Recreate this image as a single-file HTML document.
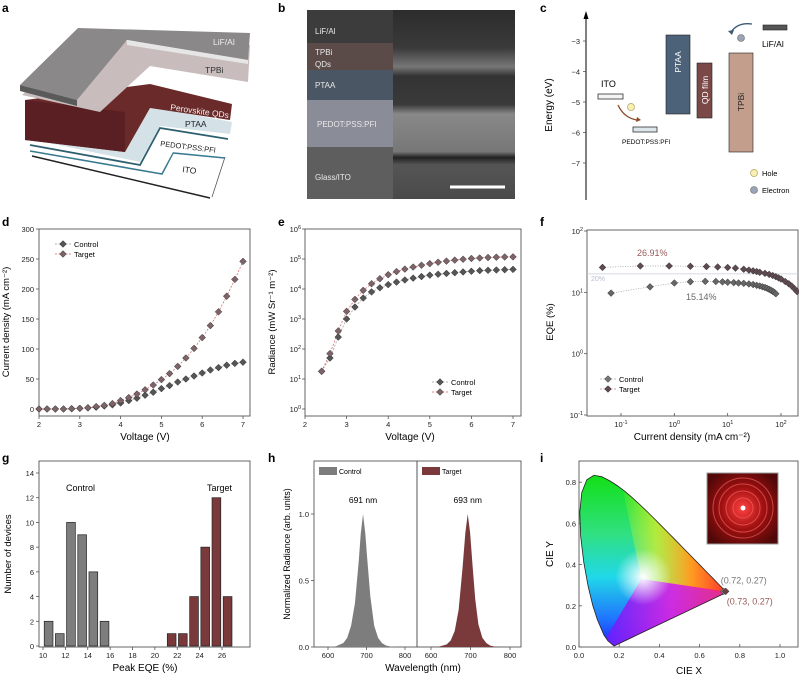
<!DOCTYPE html>
<html><head><meta charset="utf-8"><style>
html,body{margin:0;padding:0;background:#fff}
svg{display:block;font-family:"Liberation Sans",Arial,sans-serif}
</style></head><body>
<svg id="fig" width="799" height="679" viewBox="0 0 799 679" xmlns="http://www.w3.org/2000/svg">
<defs>
 <linearGradient id="cieBase" x1="0" y1="0" x2="0" y2="1">
  <stop offset="0" stop-color="#10e010"/><stop offset="0.35" stop-color="#30e080"/>
  <stop offset="0.6" stop-color="#20d8e8"/><stop offset="0.85" stop-color="#2070ff"/><stop offset="1" stop-color="#2020ff"/>
 </linearGradient>
 <linearGradient id="cieRight" x1="0" y1="0" x2="1" y2="0">
  <stop offset="0" stop-color="#ffff00" stop-opacity="0"/><stop offset="0.3" stop-color="#e8f020" stop-opacity="0.7"/>
  <stop offset="0.6" stop-color="#ff9a20"/><stop offset="1" stop-color="#ff1030"/>
 </linearGradient>
 <linearGradient id="ciePurple" x1="0" y1="0" x2="1" y2="0">
  <stop offset="0" stop-color="#6020ff"/><stop offset="0.5" stop-color="#e020e0"/><stop offset="1" stop-color="#ff2060"/>
 </linearGradient>
 <radialGradient id="cieWhite" cx="0.5" cy="0.5" r="0.5">
  <stop offset="0" stop-color="#fff" stop-opacity="1"/><stop offset="1" stop-color="#fff" stop-opacity="0"/>
 </radialGradient>
 <radialGradient id="photoG" cx="0.5" cy="0.5" r="0.6">
  <stop offset="0" stop-color="#ff4040"/><stop offset="0.5" stop-color="#a01010"/><stop offset="1" stop-color="#500808"/>
 </radialGradient>
 <clipPath id="cieClip"><path id="cieClipPath"/></clipPath>
 <linearGradient id="semG" x1="0" y1="0" x2="0" y2="1">
  <stop offset="0" stop-color="#2c2c2c"/><stop offset="0.2" stop-color="#3a3a3a"/><stop offset="0.3" stop-color="#777"/>
  <stop offset="0.35" stop-color="#333"/><stop offset="0.5" stop-color="#3a3a3a"/><stop offset="0.55" stop-color="#888"/>
  <stop offset="0.75" stop-color="#777"/><stop offset="0.78" stop-color="#222"/><stop offset="0.82" stop-color="#555"/><stop offset="1" stop-color="#4a4a4a"/>
 </linearGradient>
</defs>

<!-- Panel letters -->
<g font-weight="bold" font-size="12" fill="#000">
 <text x="2" y="12">a</text>
 <text x="278" y="12">b</text>
 <text x="540" y="12">c</text>
 <text x="2" y="226">d</text>
 <text x="278" y="226">e</text>
 <text x="540" y="226">f</text>
 <text x="2" y="462">g</text>
 <text x="268" y="462">h</text>
 <text x="540" y="462">i</text>
</g>

<!-- Panel a: device stack -->
<g>
 <polygon points="30,150 162,173 173,152 225,157 212,197" fill="#fff"/>
 <line x1="32" y1="156" x2="210" y2="198" stroke="#222" stroke-width="1.5"/>
 <line x1="212" y1="197" x2="225" y2="157" stroke="#555" stroke-width="0.8"/>
 <polyline points="30,151 162,174 173,153 225,158" fill="none" stroke="#3a7a90" stroke-width="1.6"/>
 <polygon points="30,143 140,163 160,126 228,137 222,155 173,152 162,172 30,148" fill="#fff"/>
 <polyline points="30,145 140,165 160,128 228,139" fill="none" stroke="#2f6070" stroke-width="1.8"/>
 <polygon points="25,130 143,105 232,122 230,134 160,126 140,162 25,138" fill="#d4e2e8"/>
 <polygon points="25,100 150,84 232,104 230,120 150,108 125,152 25,140" fill="#6b2a2a"/>
 <polygon points="25,100 125,112 125,152 25,140" fill="#5a1f22"/>
 <polygon points="22,95 80,40 250,45 248,82 150,66 100,112" fill="#c9bcbc"/>
 <polygon points="20,85 78,28 250,33 248,60 127,40 77,100" fill="#8a8888"/>
 <polygon points="20,85 77,100 77,106 20,91" fill="#5a5a5a"/>
 <polygon points="127,40 248,60 248,64 127,45" fill="#e6e6e6"/>
 <g font-size="8.5">
  <text x="213" y="45" fill="#eee">LiF/Al</text>
  <text x="205" y="73" fill="#333">TPBi</text>
  <text x="170" y="110" fill="#eee" transform="rotate(8 170 110)">Perovskite QDs</text>
  <text x="185" y="127" fill="#222">PTAA</text>
  <text x="160" y="146" fill="#222" font-size="7.5" transform="rotate(7 160 146)">PEDOT:PSS:PFI</text>
  <text x="182" y="172" fill="#222" transform="rotate(8 182 172)">ITO</text>
 </g>
</g>

<!-- Panel b: SEM -->
<g>
 <rect x="307" y="10" width="208" height="189" fill="url(#semG)"/>
 <rect x="307" y="10" width="86" height="33" fill="#3c3c3c"/>
 <rect x="307" y="43" width="86" height="27" fill="#5a4a48"/>
 <rect x="307" y="70" width="86" height="30" fill="#4a5664"/>
 <rect x="307" y="100" width="86" height="47" fill="#8a8c98"/>
 <rect x="307" y="147" width="86" height="52" fill="#5e5e5e"/>
 <rect x="450" y="185.5" width="55" height="3" fill="#fff"/>
 <g font-size="8" fill="#e8e8e8">
  <text x="315" y="34">LiF/Al</text><text x="315" y="55">TPBi</text><text x="315" y="67">QDs</text>
  <text x="315" y="88">PTAA</text><text x="317" y="127">PEDOT:PSS:PFI</text><text x="315" y="180">Glass/ITO</text>
 </g>
</g>

<!-- Panel c: energy diagram -->
<g>
 <line x1="586" y1="200" x2="586" y2="17" stroke="#000" stroke-width="1"/>
 <polygon points="586,11 583.5,19 588.5,19" fill="#000"/>
 <g id="cTicks" font-size="8" fill="#000"></g>
 <text x="552" y="105" font-size="10" transform="rotate(-90 552 105)" text-anchor="middle">Energy (eV)</text>
 <rect x="598" y="94" width="25" height="5" fill="#f4f4f4" stroke="#333" stroke-width="0.8"/>
 <text x="601" y="87" font-size="9">ITO</text>
 <rect x="633" y="127" width="24" height="5" fill="#dde6ea" stroke="#333" stroke-width="0.8"/>
 <text x="622" y="144" font-size="6.5">PEDOT:PSS:PFI</text>
 <rect x="666" y="35" width="24" height="79" fill="#4c6278" stroke="#222" stroke-width="0.6"/>
 <text x="681" y="62" font-size="8.5" fill="#fff" transform="rotate(-90 681 62)" text-anchor="middle">PTAA</text>
 <rect x="697" y="63" width="15" height="55" fill="#7b4848" stroke="#222" stroke-width="0.6"/>
 <text x="708" y="90" font-size="8.5" fill="#fff" transform="rotate(-90 708 90)" text-anchor="middle">QD film</text>
 <rect x="729" y="53" width="24" height="99" fill="#c39e8c" stroke="#222" stroke-width="0.6"/>
 <text x="744" y="102" font-size="8.5" fill="#222" transform="rotate(-90 744 102)" text-anchor="middle">TPBi</text>
 <rect x="763" y="25" width="24" height="5" fill="#555" stroke="#222" stroke-width="0.6"/>
 <text x="762" y="47" font-size="8.5">LiF/Al</text>
 <circle cx="631" cy="107" r="3.5" fill="#f8f0b0" stroke="#b0a060" stroke-width="0.7"/>
 <path d="M618,105 Q624,118 637,120" fill="none" stroke="#8a4a2a" stroke-width="1.3"/>
 <polygon points="637,117 641,120 636,122" fill="#8a4a2a"/>
 <circle cx="741" cy="38" r="3.5" fill="#9aa4b4" stroke="#666" stroke-width="0.6"/>
 <path d="M752,24 Q738,22 731,32" fill="none" stroke="#3a5a78" stroke-width="1.3"/>
 <polygon points="728,31 732,35 734,30" fill="#3a5a78"/>
 <circle cx="754" cy="173" r="3.5" fill="#f8f0b0" stroke="#b0a060" stroke-width="0.7"/>
 <text x="762" y="176" font-size="7.5">Hole</text>
 <circle cx="754" cy="190" r="3.5" fill="#9aa4b4" stroke="#666" stroke-width="0.6"/>
 <text x="762" y="193" font-size="7.5">Electron</text>
</g>

<g id="panelD"></g>
<g id="panelE"></g>
<g id="panelF"></g>
<g id="panelG"></g>
<g id="panelH"></g>
<g id="panelI"></g>
</svg>
<script>
// ---- data ----
const dVoltage = [2,2.2,2.4,2.6,2.8,3,3.2,3.4,3.6,3.8,4,4.2,4.4,4.6,4.8,5,5.2,5.4,5.6,5.8,6,6.2,6.4,6.6,6.8,7];
const dControl = [0,0,0,0,0.5,1,2,3,5,7,10,14,18,23,28,34,39,45,50,55,60,65,69,73,76,78];
const dTarget = [0,0,0,0,0.5,1,2,4,6,9,14,19,25,32,40,49,59,71,85,101,119,139,162,188,216,246];
const dYTicks = [0,50,100,150,200,250,300];
const dXTicks = [2,3,4,5,6,7];

const eVoltage = [2.4,2.6,2.8,3,3.2,3.4,3.6,3.8,4,4.2,4.4,4.6,4.8,5,5.2,5.4,5.6,5.8,6,6.2,6.4,6.6,6.8,7];
const eControl = [18,50,250,1000,2500,5000,8000,11000,14000,17000,20000,23000,26000,29000,31000,33000,35000,37000,39000,41000,42000,43000,44000,45000];
const eTarget = [18,70,400,1800,4500,9000,15000,22000,30000,38000,46000,54000,62000,70000,78000,85000,92000,98000,104000,108000,112000,115000,117000,118000];
const eYExp = [0,1,2,3,4,5,6];

const fControlJ = [0.065,0.35,1,2,3.8,6,8,10,13,16,20,25,30,35,40,45,50,55,60,65,70,75,80];
const fControlEQE = [9.7,12.3,14.2,14.9,15.1,15,14.8,14.6,14.4,14.2,14,13.7,13.4,13,12.7,12.3,12,11.6,11.2,10.8,10.4,10,9.5];
const fTargetJ = [0.045,0.23,0.8,2,4,6.5,10,14,20,25,30,35,40,50,60,70,80,90,100,120,140,160,180,200];
const fTargetEQE = [25.5,26.9,26.9,26.6,26.3,25.9,25.4,24.8,23.8,23,22.4,21.8,21.2,20.4,19.6,18.8,18,17.2,16.5,15,13.8,12.6,11.4,10.3];
const fYExp = [-1,0,1,2];
const fXExp = [-1,0,1,2];

const gBins = [10.5,11.5,12.5,13.5,14.5,15.5,21.5,22.5,23.5,24.5,25.5,26.5];
const gCounts = [2,1,10,9,6,2,1,1,4,8,12,4];
const gGroup = ['c','c','c','c','c','c','t','t','t','t','t','t'];
const gXTicks = [10,12,14,16,18,20,22,24,26];
const gYTicks = [0,2,4,6,8,10,12,14];

const hControlWl = [590,620,640,650,660,670,680,685,691,697,702,710,720,730,740,750,760,780,810];
const hControlI = [0,0.005,0.03,0.07,0.16,0.33,0.65,0.85,1.0,0.85,0.66,0.38,0.16,0.07,0.03,0.012,0.005,0,0];
const hTargetWl = [590,620,640,650,660,670,680,687,693,699,705,712,720,730,740,750,760,780,810];
const hTargetI = [0,0.003,0.02,0.05,0.12,0.28,0.6,0.86,1.0,0.86,0.62,0.36,0.17,0.07,0.03,0.01,0.004,0,0];
const hYTicks = [0,0.5,1.0];
const hXTicks = [600,700,800];

const cieLocusX = [0.1741,0.1440,0.1241,0.0913,0.0687,0.0454,0.0235,0.0082,0.0039,0.0139,0.0389,0.0743,0.1142,0.1547,0.1929,0.2296,0.2658,0.3016,0.3373,0.3731,0.4087,0.4441,0.4788,0.5125,0.5448,0.5752,0.6029,0.6270,0.6482,0.6658,0.6801,0.6915,0.7006,0.7347];
const cieLocusY = [0.0050,0.0297,0.0578,0.1327,0.2007,0.2950,0.4127,0.5384,0.6548,0.7502,0.8120,0.8338,0.8262,0.8059,0.7816,0.7543,0.7243,0.6923,0.6589,0.6245,0.5896,0.5547,0.5202,0.4866,0.4544,0.4242,0.3965,0.3725,0.3514,0.3340,0.3197,0.3083,0.2993,0.2653];
const ciePointX = [0.72,0.73];
const ciePointY = [0.27,0.27];
const cieTicks = [0,0.2,0.4,0.6,0.8,1.0];
const cTicks = [-3,-4,-5,-6,-7];

// ---- helpers ----
const NS = 'http://www.w3.org/2000/svg';
function mk(parent, tag, attrs, text) {
  const e = document.createElementNS(NS, tag);
  for (const k in attrs) e.setAttribute(k, attrs[k]);
  if (text !== undefined) e.textContent = text;
  parent.appendChild(e);
  return e;
}
function lin(d0, d1, r0, r1) { return v => r0 + (v - d0) / (d1 - d0) * (r1 - r0); }
function logS(e0, e1, r0, r1) { return v => r0 + (Math.log10(v) - e0) / (e1 - e0) * (r1 - r0); }
function frame(g, x0, y0, x1, y1) {
  const r = mk(g, 'rect', {x: x0, y: y0, width: x1 - x0, height: y1 - y0, fill: 'none', stroke: '#555', 'stroke-width': 0.9});
  
  
}
function diamond(g, cx, cy, fill, name) {
  const s = 3.4;
  const p = mk(g, 'polygon', {points: `${cx},${cy-s} ${cx+s},${cy} ${cx},${cy+s} ${cx-s},${cy}`, fill: fill, stroke: '#333', 'stroke-width': 0.5});
  
  
}
function yTitle(g, x, y, txt, fs) {
  const t = mk(g, 'text', {x: x, y: y, 'font-size': fs || 10, 'text-anchor': 'middle', transform: `rotate(-90 ${x} ${y})`}, txt);
  
  
  return t;
}
function xTitle(g, x, y, txt) {
  const t = mk(g, 'text', {x: x, y: y, 'font-size': 10, 'text-anchor': 'middle'}, txt);
  
  
  return t;
}
function supLabel(g, x, y, exp, anchor) {
  const t = mk(g, 'text', {x: x, y: y, 'font-size': 7.5, 'text-anchor': anchor, fill: '#222'});
  mk(t, 'tspan', {}, '10');
  mk(t, 'tspan', {dy: -3, 'font-size': 5.5}, String(exp));
  
  
}
function tickLabel(g, x, y, txt, anchor) {
  const t = mk(g, 'text', {x: x, y: y, 'font-size': 7.5, 'text-anchor': anchor, fill: '#222'}, txt);
  
  
}
function tick(g, x1, y1, x2, y2) { mk(g, 'line', {x1, y1, x2, y2, stroke: '#555', 'stroke-width': 0.8}); }
function legend(g, x, y, names, fills, lineCols) {
  names.forEach((n, i) => {
    const yy = y + i * 10;
    mk(g, 'line', {x1: x - 8, y1: yy, x2: x + 8, y2: yy, stroke: lineCols[i], 'stroke-width': 0.8, 'stroke-dasharray': '2,1.5'});
    diamond(g, x, yy, fills[i], 'legend-marker');
    const t = mk(g, 'text', {x: x + 11, y: yy + 3, 'font-size': 7.5}, n);
    
    
  });
}
const CTRL = '#555555', TGT = '#7e6368';

// ---- panel c ticks ----
(function(){
  const g = document.getElementById('cTicks');
  const y = lin(-3, -7, 41, 163);
  cTicks.forEach(v => { tick(g, 583, y(v), 586, y(v)); tickLabel(g, 580, y(v) + 3, '\u2212' + Math.abs(v), 'end'); });
})();

// ---- panel d ----
(function(){
  const g = document.getElementById('panelD');
  const X0 = 39, X1 = 250, Y0 = 229, Y1 = 416;
  const x = lin(2, 7, 39, 243), y = lin(0, 300, 409, 229);
  frame(g, X0, Y0, X1, Y1);
  dYTicks.forEach(v => { tick(g, X0 - 3, y(v), X0, y(v)); tickLabel(g, X0 - 5, y(v) + 3, String(v), 'end'); });
  dXTicks.forEach(v => { tick(g, x(v), Y1, x(v), Y1 + 3); tickLabel(g, x(v), Y1 + 11, String(v), 'middle'); });
  mk(g, 'polyline', {points: dVoltage.map((v,i)=>`${x(v)},${y(dControl[i])}`).join(' '), fill: 'none', stroke: '#999', 'stroke-width': 0.7, 'stroke-dasharray': '2,1.5'});
  mk(g, 'polyline', {points: dVoltage.map((v,i)=>`${x(v)},${y(dTarget[i])}`).join(' '), fill: 'none', stroke: '#d06060', 'stroke-width': 0.7, 'stroke-dasharray': '2,1.5'});
  dVoltage.forEach((v,i) => diamond(g, x(v), y(dControl[i]), CTRL, 'control-point'));
  dVoltage.forEach((v,i) => diamond(g, x(v), y(dTarget[i]), TGT, 'target-point'));
  legend(g, 63, 244, ['Control','Target'], [CTRL, TGT], ['#999', '#d06060']);
  yTitle(g, 9, 322, 'Current density (mA cm\u207B\u00B2)', 9.5);
  xTitle(g, 145, 440, 'Voltage (V)');
})();

// ---- panel e ----
(function(){
  const g = document.getElementById('panelE');
  const X0 = 305, X1 = 521, Y0 = 229, Y1 = 416;
  const x = lin(2, 7, 305, 513), y = logS(0, 6, 409, 229);
  frame(g, X0, Y0, X1, Y1);
  eYExp.forEach(e => { tick(g, X0 - 3, y(Math.pow(10,e)), X0, y(Math.pow(10,e))); supLabel(g, X0 - 4, y(Math.pow(10,e)) + 3, e, 'end'); });
  dXTicks.forEach(v => { tick(g, x(v), Y1, x(v), Y1 + 3); tickLabel(g, x(v), Y1 + 11, String(v), 'middle'); });
  mk(g, 'polyline', {points: eVoltage.map((v,i)=>`${x(v)},${y(eControl[i])}`).join(' '), fill: 'none', stroke: '#999', 'stroke-width': 0.7, 'stroke-dasharray': '2,1.5'});
  mk(g, 'polyline', {points: eVoltage.map((v,i)=>`${x(v)},${y(eTarget[i])}`).join(' '), fill: 'none', stroke: '#d06060', 'stroke-width': 0.7, 'stroke-dasharray': '2,1.5'});
  eVoltage.forEach((v,i) => diamond(g, x(v), y(eControl[i]), CTRL, 'control-point'));
  eVoltage.forEach((v,i) => diamond(g, x(v), y(eTarget[i]), TGT, 'target-point'));
  legend(g, 440, 382, ['Control','Target'], [CTRL, TGT], ['#999', '#d06060']);
  yTitle(g, 275, 322, 'Radiance (mW Sr\u207B\u00B9 m\u207B\u00B2)', 9.5);
  xTitle(g, 410, 440, 'Voltage (V)');
})();

// ---- panel f ----
(function(){
  const g = document.getElementById('panelF');
  const X0 = 587, X1 = 798, Y0 = 230, Y1 = 416;
  const x = logS(-1, 2, 621, 781), y = logS(-1, 2, 415, 231);
  frame(g, X0, Y0, X1, Y1);
  fYExp.forEach(e => { tick(g, X0 - 3, y(Math.pow(10,e)), X0, y(Math.pow(10,e))); supLabel(g, X0 - 4, y(Math.pow(10,e)) + 3, e, 'end'); });
  fXExp.forEach(e => { tick(g, x(Math.pow(10,e)), Y1, x(Math.pow(10,e)), Y1 - 3); supLabel(g, x(Math.pow(10,e)), Y1 + 11, e, 'middle'); });
  mk(g, 'line', {x1: X0, y1: y(20), x2: X1, y2: y(20), stroke: '#c8ccd8', 'stroke-width': 0.7});
  const t20 = mk(g, 'text', {x: 591, y: y(20) + 7, 'font-size': 7, fill: '#b8bcd0'}, '20%');
  
  
  mk(g, 'polyline', {points: fControlJ.map((v,i)=>`${x(v)},${y(fControlEQE[i])}`).join(' '), fill: 'none', stroke: '#999', 'stroke-width': 0.7, 'stroke-dasharray': '1,1.5'});
  mk(g, 'polyline', {points: fTargetJ.map((v,i)=>`${x(v)},${y(fTargetEQE[i])}`).join(' '), fill: 'none', stroke: '#999', 'stroke-width': 0.7, 'stroke-dasharray': '1,1.5'});
  fControlJ.forEach((v,i) => diamond(g, x(v), y(fControlEQE[i]), '#666', 'control-point'));
  fTargetJ.forEach((v,i) => diamond(g, x(v), y(fTargetEQE[i]), '#5e4a50', 'target-point'));
  const a = mk(g, 'text', {x: 637, y: 256, 'font-size': 9, fill: '#9a5a5a'}, '26.91%');
  
  
  const b = mk(g, 'text', {x: 686, y: 300, 'font-size': 9, fill: '#666'}, '15.14%');
  
  
  legend(g, 608, 379, ['Control','Target'], ['#777', '#5e4a50'], ['#aaa', '#c08080']);
  yTitle(g, 553, 322, 'EQE (%)', 9.5);
  xTitle(g, 692, 440, 'Current density (mA cm\u207B\u00B2)');
})();

// ---- panel g ----
(function(){
  const g = document.getElementById('panelG');
  const X0 = 39, X1 = 250, Y0 = 461, Y1 = 647;
  const x = lin(10, 26, 43, 222), y = lin(0, 14, 646, 473);
  frame(g, X0, Y0, X1, Y1);
  gYTicks.forEach(v => { tick(g, X0 - 3, y(v), X0, y(v)); tickLabel(g, X0 - 5, y(v) + 3, String(v), 'end'); });
  gXTicks.forEach(v => { tick(g, x(v), Y1, x(v), Y1 + 3); tickLabel(g, x(v), Y1 + 11, String(v), 'middle'); });
  const w = x(0.78) - x(0);
  gBins.forEach((c, i) => {
    const r = mk(g, 'rect', {x: x(c) - w/2, y: y(gCounts[i]), width: w, height: y(0) - y(gCounts[i]), fill: gGroup[i] === 'c' ? '#7d7d7d' : '#7a3a3c', stroke: '#222', 'stroke-width': 0.7});
    
    
  });
  const t1 = mk(g, 'text', {x: 66, y: 491, 'font-size': 9}, 'Control');
  
  
  const t2 = mk(g, 'text', {x: 207, y: 491, 'font-size': 9}, 'Target');
  
  
  yTitle(g, 11, 554, 'Number of devices', 9.5);
  xTitle(g, 145, 671, 'Peak EQE (%)');
})();

// ---- panel h ----
(function(){
  const g = document.getElementById('panelH');
  const Y0 = 461, Y1 = 647;
  const y = lin(0, 1, 647, 514);
  function sub(x0, x1, xa, xb, wl, inten, col, name, label, peak) {
    const x = lin(600, 800, xa, xb);
    frame(g, x0, Y0, x1, Y1);
    hXTicks.forEach(v => { tick(g, x(v), Y1, x(v), Y1 + 3); tickLabel(g, x(v), Y1 + 11, String(v), 'middle'); });
    const pts = wl.map((v,i)=>`${Math.max(x0, Math.min(x1, x(v)))},${y(inten[i])}`);
    const p = mk(g, 'polygon', {points: pts.join(' ') + ` ${x(wl[wl.length-1])},${y(0)} ${x(wl[0])},${y(0)}`, fill: col});
    
    
    mk(g, 'rect', {x: x0 + 5, y: 467, width: 18, height: 8, fill: col});
    const lt = mk(g, 'text', {x: x0 + 25, y: 474, 'font-size': 7}, label);
    
    
    const pk = mk(g, 'text', {x: x(wl[8]), y: 503, 'font-size': 8.5, 'text-anchor': 'middle'}, peak);
    
    
  }
  sub(314, 417, 328, 405, hControlWl, hControlI, '#7d7d7d', 'control-spectrum', 'Control', '691 nm');
  sub(417, 521, 431, 510, hTargetWl, hTargetI, '#7a3a3c', 'target-spectrum', 'Target', '693 nm');
  hYTicks.forEach(v => { tick(g, 311, y(v), 314, y(v)); tickLabel(g, 309, y(v) + 3, v.toFixed(1), 'end'); });
  yTitle(g, 290, 554, 'Normalized Radiance (arb. units)', 9);
  xTitle(g, 423, 671, 'Wavelength (nm)');
})();

// ---- panel i ----
(function(){
  const g = document.getElementById('panelI');
  const X0 = 579, X1 = 798, Y0 = 461, Y1 = 647;
  const x = lin(0, 1, 579, 780), y = lin(0, 1, 647, 441);
  frame(g, X0, Y0, X1, Y1);
  cieTicks.forEach(v => {
    tick(g, x(v), Y1, x(v), Y1 - 3); tickLabel(g, x(v), Y1 + 11, v.toFixed(1), 'middle');
    if (v < 0.9) { tick(g, X0, y(v), X0 + 3, y(v)); tickLabel(g, X0 - 3, y(v) + 3, v.toFixed(1), 'end'); }
  });
  const d = 'M' + cieLocusX.map((v,i)=>`${x(v)},${y(cieLocusY[i])}`).join(' L') + ' Z';
  document.getElementById('cieClipPath').setAttribute('d', d);
  const cg = mk(g, 'g', {'clip-path': 'url(#cieClip)'});
  
  
  mk(cg, 'rect', {x: x(0), y: y(0.85), width: x(0.8) - x(0), height: y(0) - y(0.85), fill: 'url(#cieBase)'});
  mk(cg, 'polygon', {points: `${x(0.31)},${y(0.33)} ${x(0.2)},${y(0.85)} ${x(0.8)},${y(0.85)} ${x(0.8)},${y(0.25)}`, fill: 'url(#cieRight)'});
  mk(cg, 'polygon', {points: `${x(0.31)},${y(0.33)} ${x(0.8)},${y(0.26)} ${x(0.18)},${y(-0.02)} ${x(0.12)},${y(0.02)}`, fill: 'url(#ciePurple)', opacity: 0.9});
  mk(cg, 'ellipse', {cx: x(0.32), cy: y(0.34), rx: 28, ry: 28, fill: 'url(#cieWhite)'});
  const loc = mk(g, 'path', {d: d, fill: 'none', stroke: '#222', 'stroke-width': 0.8});
  
  
  ciePointX.forEach((v,i) => diamond(g, x(v), y(ciePointY[i]), i === 0 ? '#777' : '#6a4045', 'cie-point'));
  const l1 = mk(g, 'text', {x: x(ciePointX[0]) - 3, y: y(ciePointY[0]) - 8, 'font-size': 9, fill: '#777'}, `(${ciePointX[0].toFixed(2)}, ${ciePointY[0].toFixed(2)})`);
  
  
  const l2 = mk(g, 'text', {x: x(ciePointX[1]) + 1, y: y(ciePointY[1]) + 13, 'font-size': 9, fill: '#9a5a5a'}, `(${ciePointX[1].toFixed(2)}, ${ciePointY[1].toFixed(2)})`);
  
  
  const ph = mk(g, 'g', {});
  
  
  mk(ph, 'rect', {x: 707, y: 473, width: 71, height: 71, fill: 'url(#photoG)', stroke: '#999', 'stroke-width': 1});
  [30, 24, 17, 10].forEach(r => mk(ph, 'circle', {cx: 743, cy: 508, r: r, fill: 'none', stroke: '#ff6a6a', 'stroke-width': 1, opacity: 0.6}));
  mk(ph, 'circle', {cx: 743, cy: 508, r: 2.5, fill: '#fff'});
  yTitle(g, 553, 554, 'CIE Y', 10);
  xTitle(g, 689, 674, 'CIE X');
})();
</script>
</body></html>
